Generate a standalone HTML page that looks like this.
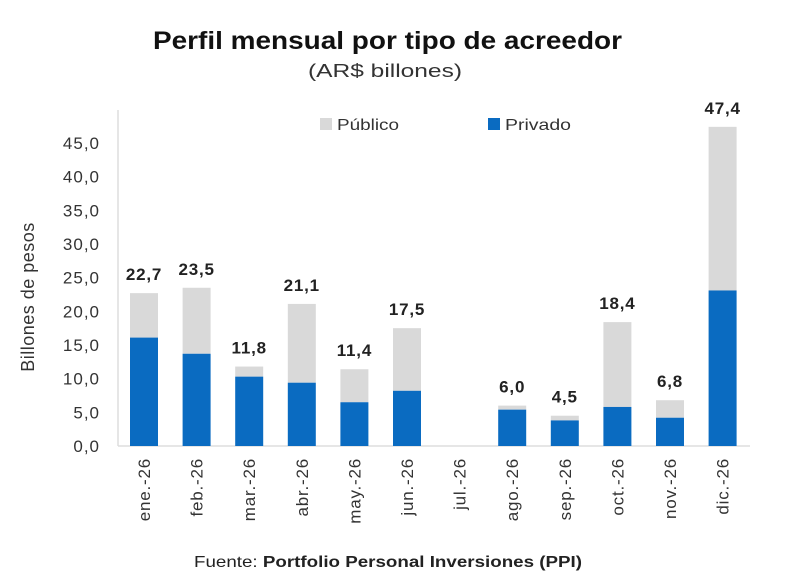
<!DOCTYPE html>
<html><head><meta charset="utf-8">
<style>
body{margin:0;background:#fff;width:800px;height:585px;overflow:hidden;font-family:"Liberation Sans",sans-serif;}
svg{display:block}
</style></head>
<body>
<svg id="chart" width="800" height="585">
<text x="153" y="49" textLength="469" lengthAdjust="spacingAndGlyphs" font-size="25" font-weight="bold" fill="#111">Perfil mensual por tipo de acreedor</text>
<text x="308" y="77" textLength="154" lengthAdjust="spacingAndGlyphs" font-size="18" fill="#333">(AR$ billones)</text>
<text transform="translate(34,297) rotate(-90)" text-anchor="middle" font-size="18" letter-spacing="0.5" fill="#333">Billones de pesos</text>
<line x1="118" y1="110" x2="118" y2="446" stroke="#ddd" stroke-width="1.5"/>
<line x1="118" y1="446" x2="750" y2="446" stroke="#ddd" stroke-width="1.5"/>
<rect x="320" y="118" width="12" height="12" fill="#d9d9d9"/>
<text x="337" y="130" textLength="62" lengthAdjust="spacingAndGlyphs" font-size="16" fill="#333">Público</text>
<rect x="488" y="118" width="12" height="12" fill="#0a6bc1"/>
<text x="505" y="130" textLength="66" lengthAdjust="spacingAndGlyphs" font-size="16" fill="#333">Privado</text>
<g id="plot"></g>
<text x="194" y="567" textLength="388" lengthAdjust="spacingAndGlyphs" font-size="16" fill="#222">Fuente: <tspan font-weight="bold">Portfolio Personal Inversiones (PPI)</tspan></text>
</svg>
<script>
const categories=["ene.-26","feb.-26","mar.-26","abr.-26","may.-26","jun.-26","jul.-26","ago.-26","sep.-26","oct.-26","nov.-26","dic.-26"];
const privado=[16.1,13.7,10.3,9.4,6.5,8.2,0,5.4,3.8,5.8,4.2,23.1];
const totals=[22.7,23.5,11.8,21.1,11.4,17.5,0,6.0,4.5,18.4,6.8,47.4];
const totalLabels=["22,7","23,5","11,8","21,1","11,4","17,5","","6,0","4,5","18,4","6,8","47,4"];
const yTicks=[0,5,10,15,20,25,30,35,40,45];
const NS="http://www.w3.org/2000/svg";
const g=document.getElementById('plot');
const y0=446,pxPerUnit=(446-143)/45;
function y(v){return y0-v*pxPerUnit;}
function xc(i){return 144+i*52.6;}
const bw=28;
function mk(t,a){const e=document.createElementNS(NS,t);for(const k in a)e.setAttribute(k,a[k]);g.appendChild(e);return e;}
yTicks.forEach(t=>{
 const e=mk('text',{x:100,y:y(t)+6,'text-anchor':'end','font-size':17,'letter-spacing':1,fill:'#333'});
 e.textContent=t.toFixed(1).replace('.',',');
 
 
});
categories.forEach((c,i)=>{
 if(totals[i]>0){
  const r1=mk('rect',{x:xc(i)-bw/2,y:y(totals[i]),width:bw,height:y(privado[i])-y(totals[i]),fill:'#d9d9d9'});
  
  
  const r2=mk('rect',{x:xc(i)-bw/2,y:y(privado[i]),width:bw,height:y0-y(privado[i]),fill:'#0a6bc1'});
  
  
  const t=mk('text',{x:xc(i),y:y(totals[i])-13,'text-anchor':'middle','font-size':17,'letter-spacing':0.8,'font-weight':'bold',fill:'#222'});
  t.textContent=totalLabels[i];
  
  
 }
 const l=mk('text',{transform:`translate(${xc(i)+6},458) rotate(-90)`,'text-anchor':'end','font-size':17,'letter-spacing':0.8,fill:'#333'});
 l.textContent=c;
 
 
});
</script>
</body></html>
